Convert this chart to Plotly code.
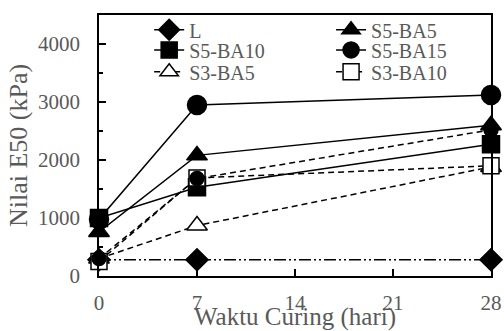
import plotly.graph_objects as go

# ---- data ----
days = [0, 7, 28]
L = [280, 280, 280]
S5_BA5 = [760, 2080, 2600]
S5_BA10 = [1000, 1530, 2270]
S5_BA15 = [980, 2950, 3120]
S3_BA5 = [300, 870, 1880]
S3_BA10 = [250, 1690, 1900]
S3_BA15 = [300, 1680, 2520]  # plotted in reference but not listed in legend

x_ticks = [0, 7, 14, 21, 28]
y_ticks = [0, 1000, 2000, 3000, 4000]

FONT = "Liberation Serif"
TXT = "#595959"

fig = go.Figure()

def add(name, y, symbol, dash, size, filled=True, show=True, legend="legend"):
    fig.add_trace(go.Scatter(
        x=days, y=y, name=name, mode="lines+markers",
        line=dict(color="black", width=1.5, dash=dash),
        marker=dict(symbol=symbol, size=size,
                    color="black" if filled else "white",
                    line=dict(color="black", width=1.5)),
        cliponaxis=False, showlegend=show, legend=legend,
    ))

add("L", L, "diamond", "12px,3px,2px,3px,2px,3px", 17, legend="legend")
add("S5-BA5", S5_BA5, "triangle-up", "solid", 18, legend="legend2")
add("S5-BA10", S5_BA10, "square", "solid", 17, legend="legend3")
add("S5-BA15", S5_BA15, "circle", "solid", 19, legend="legend4")
add("S3-BA5", S3_BA5, "triangle-up", "6px,4px", 18, filled=False, legend="legend5")
add("S3-BA10", S3_BA10, "square", "6px,4px", 16, filled=False, legend="legend6")
add("S3-BA15", S3_BA15, "circle", "6px,4px", 14, show=False)

def leg(x, y):
    return dict(
        orientation="v", x=x, y=y, xanchor="left", yanchor="top",
        bgcolor="rgba(0,0,0,0)", font=dict(family=FONT, size=20, color=TXT),
        tracegroupgap=0, borderwidth=0,
    )

col1, col2 = 0.128, 0.592
row1, row2, row3 = 1.018, 0.941, 0.857

fig.update_layout(
    template="none",
    width=504, height=331,
    margin=dict(l=99, r=13, t=15, b=55, autoexpand=False),
    paper_bgcolor="white", plot_bgcolor="white",
    font=dict(family=FONT, size=21, color=TXT),
    showlegend=True,
    legend=leg(col1, row1),
    legend2=leg(col2, row1),
    legend3=leg(col1, row2),
    legend4=leg(col2, row2),
    legend5=leg(col1, row3),
    legend6=leg(col2, row3),
)

fig.update_xaxes(
    range=[0, 28], tickvals=x_ticks, ticktext=[str(v) for v in x_ticks],
    showgrid=False, zeroline=False,
    showline=True, linecolor="black", linewidth=1.5, mirror=True,
    ticks="inside", ticklen=7, tickwidth=1.5, tickcolor="black",
    ticklabelstandoff=7,
    tickfont=dict(family=FONT, size=21, color=TXT),
    title=dict(text="Waktu Curing (hari)", font=dict(family=FONT, size=25, color=TXT), standoff=2),
)
fig.update_yaxes(
    range=[0, 4500], tickvals=y_ticks, ticktext=[str(v) for v in y_ticks],
    showgrid=False, zeroline=False,
    showline=True, linecolor="black", linewidth=1.5, mirror=True,
    ticks="inside", ticklen=7, tickwidth=1.5, tickcolor="black",
    minor=dict(dtick=500, ticks="inside", ticklen=4, tickwidth=1.5, tickcolor="black", showgrid=False),
    ticklabelstandoff=13,
    tickfont=dict(family=FONT, size=21, color=TXT),
    title=dict(text="Nilai E50 (kPa)", font=dict(family=FONT, size=26, color=TXT), standoff=3),
)

fig.write_html("out.html")
